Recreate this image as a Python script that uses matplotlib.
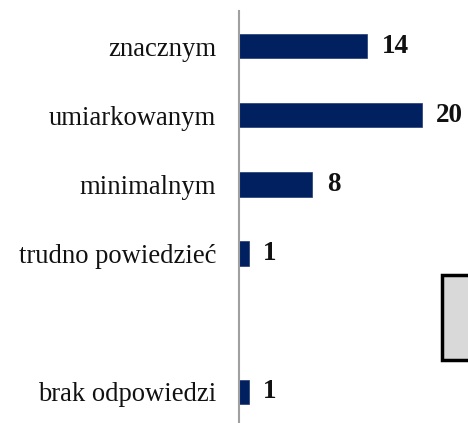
import matplotlib.pyplot as plt
from matplotlib.patches import Rectangle

# --- dane ---
categories = ['znacznym', 'umiarkowanym', 'minimalnym', 'trudno powiedzieć', '', 'brak odpowiedzi']
values = [14, 20, 8, 1, None, 1]

W, H = 468, 423
fig = plt.figure(figsize=(W / 100, H / 100), dpi=100)

# oś: lewa krawędź na x=239.5 px, górna na y=11.5 px
ax = fig.add_axes([239.5 / W, -3.5 / H, 227.5 / W, 415 / H])

ypos = list(range(len(categories)))
for y, v in zip(ypos, values):
    if v is None:
        continue
    ax.barh(y, v, height=0.35, color='#002060', edgecolor='#1f3a70', linewidth=0.5)
    ax.text(v + 1.6, y, str(v), va='center', ha='left', fontsize=19.5,
            fontweight='bold', family='Liberation Serif', color='#111111')

ax.set_xlim(0, 25)
ax.set_ylim(5.5, -0.5)
ax.set_yticks(ypos)
ax.set_yticklabels(categories, family='Liberation Serif', fontsize=19.2, color='#111111')
ax.tick_params(axis='y', length=0, pad=17)
ax.set_xticks([])

for s in ['top', 'right', 'bottom']:
    ax.spines[s].set_visible(False)
ax.spines['left'].set_color('#a0a0a0')
ax.spines['left'].set_linewidth(1.5)

# szare pole z prawej strony
fig.patches.append(Rectangle((442 / W, (H - 360) / H), 40 / W, 85 / H,
                             transform=fig.transFigure, facecolor='#d9d9d9',
                             edgecolor='black', linewidth=2.5, clip_on=False))

fig.savefig('out.png', dpi=100)
